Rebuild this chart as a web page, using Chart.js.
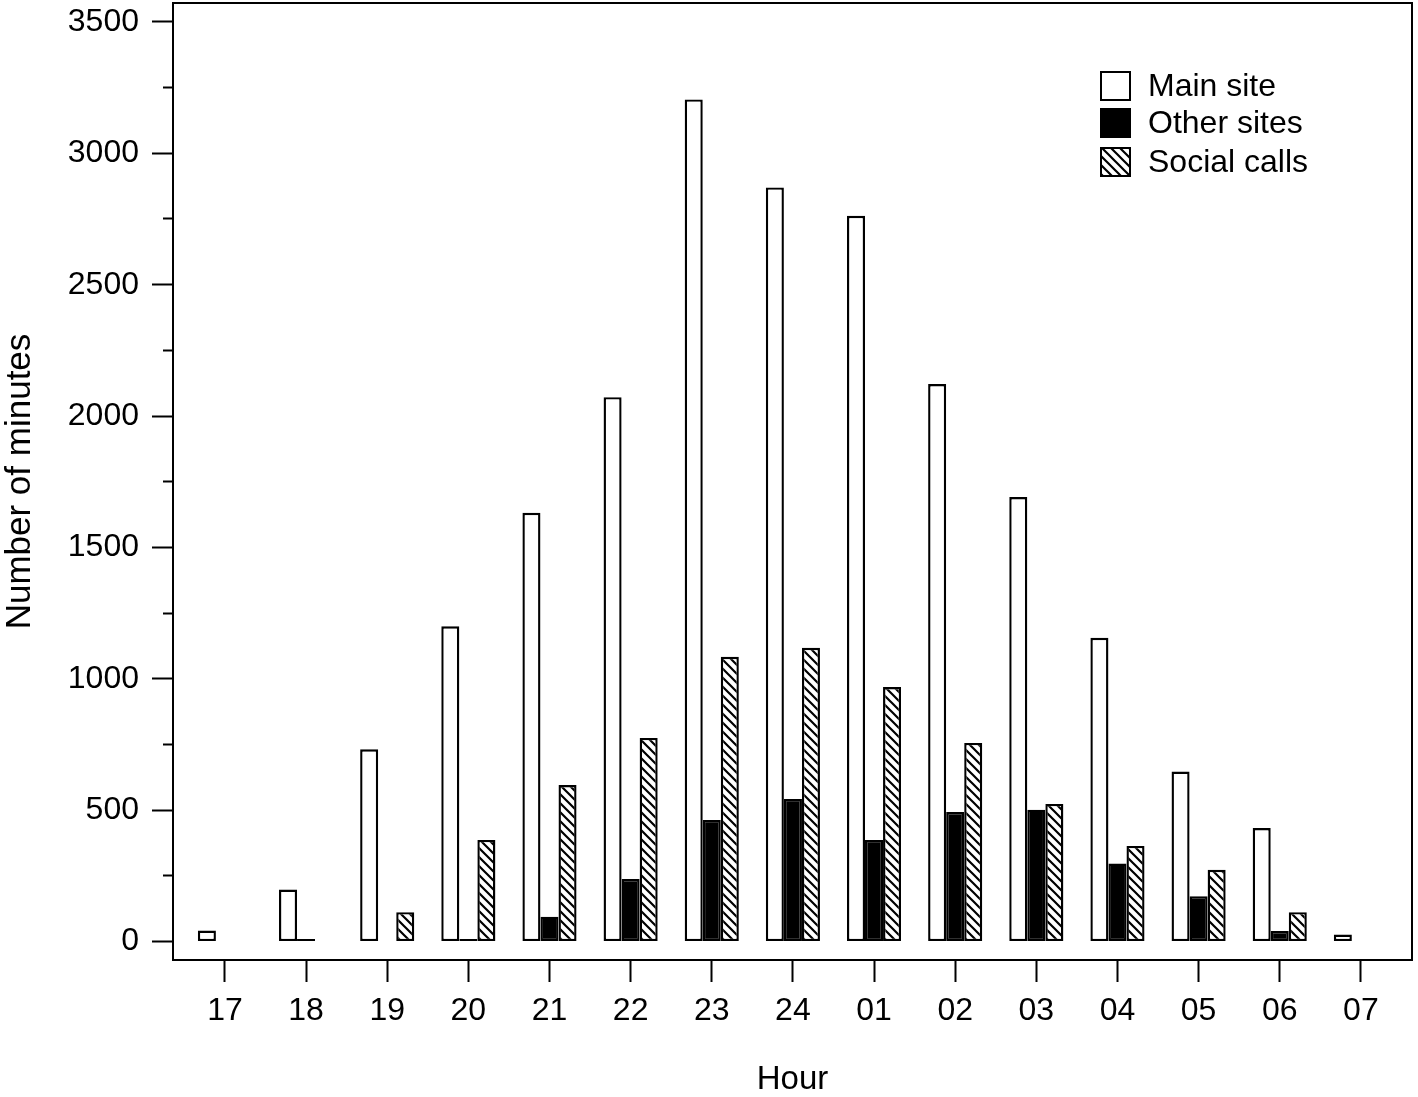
<!DOCTYPE html>
<html><head><meta charset="utf-8">
<script src="https://cdn.jsdelivr.net/npm/chart.js@4/dist/chart.umd.min.js"></script>
<style>html,body{margin:0;padding:0;background:#fff}#wrap{width:1418px;height:1097px}</style>
</head><body><div id="wrap"><canvas id="c" width="1418" height="1097"></canvas></div>
<script>
const hours = ['17','18','19','20','21','22','23','24','01','02','03','04','05','06','07'];
const mainSite    = [42, 198, 732, 1200, 1632, 2072, 3205, 2870, 2762, 2122, 1692, 1156, 647, 432, 27];
const otherSites  = [null, 10, null, 10, 95, 238, 463, 543, 387, 493, 502, 297, 173, 40, null];
const socialCalls = [null, null, 112, 387, 596, 775, 1084, 1118, 969, 756, 524, 364, 273, 112, null];
const yMajorTicks = [0, 500, 1000, 1500, 2000, 2500, 3000, 3500];
const yMinorTicks = [250, 750, 1250, 1750, 2250, 2750, 3250];
const seriesNames = ['Main site', 'Other sites', 'Social calls'];

const FONT = "'Liberation Sans', Arial, Helvetica, sans-serif";
Chart.defaults.font.family = FONT;
Chart.defaults.color = '#000';

function makeHatch() {
  const s = 9;
  const c = document.createElement('canvas');
  c.width = s; c.height = s;
  const g = c.getContext('2d');
  g.fillStyle = '#fff';
  g.fillRect(0, 0, s, s);
  g.strokeStyle = '#000';
  g.lineWidth = 2.2;
  g.beginPath();
  g.moveTo(-2, -2); g.lineTo(s + 2, s + 2);
  g.moveTo(-3, s - 3); g.lineTo(3, s + 3);
  g.moveTo(s - 3, -3); g.lineTo(s + 3, 3);
  g.stroke();
  return g.createPattern(c, 'repeat');
}
const hatch = makeHatch();

const X_MIN = -0.64, X_MAX = 14.63, Y_MIN = -70, Y_MAX = 3572;
const toXY = arr => arr.map((v, i) => ({x: i, y: v}));

const frame = {
  id: 'frame',
  afterDatasetsDraw(chart) {
    const {ctx, chartArea: a} = chart;
    ctx.save();
    ctx.strokeStyle = '#000';
    ctx.lineWidth = 2;
    ctx.strokeRect(a.left, a.top, a.right - a.left, a.bottom - a.top);
    ctx.restore();
  }
};

const legendBox = {
  id: 'legendBox',
  afterDraw(chart) {
    const ctx = chart.ctx;
    const x = 1100, w = 31, h = 30;
    const tops = [71, 108, 147];
    ctx.save();
    chart.data.datasets.forEach((ds, i) => {
      const y = tops[i];
      ctx.fillStyle = ds.backgroundColor;
      ctx.fillRect(x, y, w, h);
      ctx.strokeStyle = '#000';
      ctx.lineWidth = 2;
      ctx.strokeRect(x + 1, y + 1, w - 2, h - 2);
      ctx.fillStyle = '#000';
      ctx.font = '32px ' + FONT;
      ctx.textBaseline = 'middle';
      ctx.textAlign = 'left';
      ctx.fillText(ds.label, 1148, y + h / 2 + 1);
    });
    ctx.restore();
  }
};

new Chart(document.getElementById('c'), {
  type: 'bar',
  data: {
    datasets: [
      {label: seriesNames[0], data: toXY(mainSite), backgroundColor: '#fff'},
      {label: seriesNames[1], data: toXY(otherSites), backgroundColor: '#000'},
      {label: seriesNames[2], data: toXY(socialCalls), backgroundColor: hatch}
    ].map(d => Object.assign(d, {borderColor: '#000', borderWidth: 2.4, borderSkipped: false,
      barPercentage: 1.0, categoryPercentage: 0.667}))
  },
  options: {
    responsive: false,
    animation: false,
    devicePixelRatio: 1,
    layout: {padding: {left: 0, top: 3, right: 6, bottom: 0}},
    plugins: {legend: {display: false}, tooltip: {enabled: false}},
    scales: {
      x: {
        type: 'linear',
        min: X_MIN, max: X_MAX,
        offset: false,
        afterBuildTicks: s => { s.ticks = hours.map((_, i) => ({value: i})); },
        afterFit: s => { s.height = 137; s.paddingLeft = 0; s.paddingRight = 0; },
        ticks: {
          autoSkip: false, maxRotation: 0, padding: 10,
          font: {size: 32}, color: '#000',
          callback: v => hours[v]
        },
        grid: {offset: false, drawOnChartArea: false, drawTicks: true, tickLength: 22, tickWidth: 2, tickColor: '#000'},
        border: {display: true, color: '#000', width: 2},
        title: {display: true, text: 'Hour', font: {size: 33}, color: '#000', padding: {top: 0, bottom: -3}}
      },
      y: {
        type: 'linear',
        position: 'left',
        min: Y_MIN, max: Y_MAX,
        afterBuildTicks: s => { s.ticks = yMajorTicks.map(v => ({value: v})); },
        afterFit: s => { s.width = 173; s.paddingTop = 0; s.paddingBottom = 0; },
        ticks: {font: {size: 32}, color: '#000', padding: 13, callback: v => String(v)},
        grid: {drawOnChartArea: false, drawTicks: true, tickLength: 21, tickWidth: 2, tickColor: '#000'},
        border: {display: true, color: '#000', width: 2},
        title: {display: true, text: 'Number of minutes', font: {size: 35}, color: '#000', padding: {top: -1, bottom: 0}}
      },
      yMinor: {
        type: 'linear',
        position: {x: X_MIN},
        min: Y_MIN, max: Y_MAX,
        afterBuildTicks: s => { s.ticks = yMinorTicks.map(v => ({value: v})); },
        afterFit: s => { s.paddingTop = 0; s.paddingBottom = 0; },
        ticks: {display: false},
        grid: {drawOnChartArea: false, drawTicks: true, tickLength: 10, tickWidth: 2, tickColor: '#000'},
        border: {display: false}
      }
    }
  },
  plugins: [frame, legendBox]
});
</script>
</body></html>
